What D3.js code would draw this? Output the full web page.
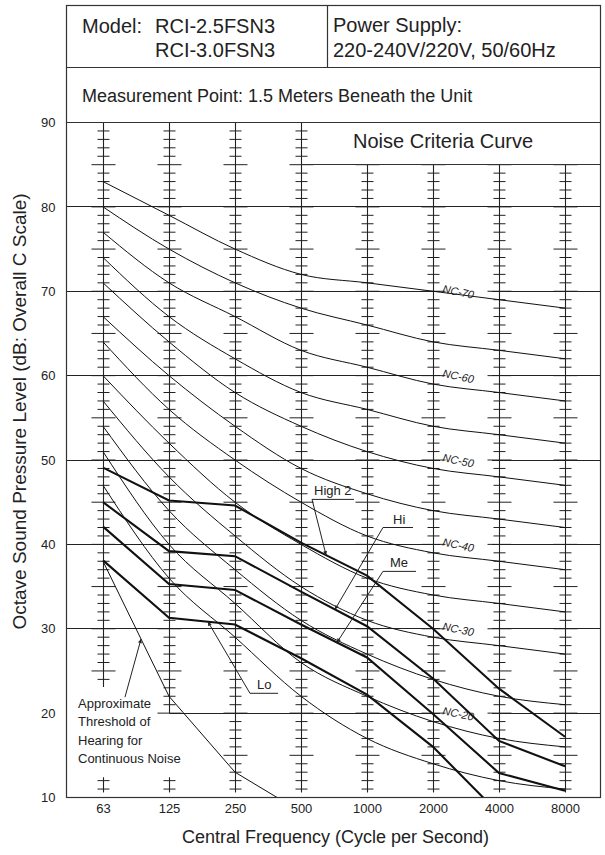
<!DOCTYPE html>
<html><head><meta charset="utf-8">
<script src="https://cdn.jsdelivr.net/npm/d3@7"></script>
<style>
body{margin:0;background:#fff}
svg{display:block}
text{font-family:"Liberation Sans",Arial,Helvetica,sans-serif;fill:#222}
</style>
</head><body><svg id="c" width="605" height="855"></svg>
<script>
// ---------------- DATA ----------------
const frequencies = ["63","125","250","500","1000","2000","4000","8000"];
const yTickLabels = [10,20,30,40,50,60,70,80,90];
const gridLevels = [20,30,40,50,60,70,80];

const nc70 = [83,79,75,72,71,70,69,68];
const nc65 = [80,75,71,68,66,64,63,62];
const nc60 = [77,71,67,63,61,59,58,57];
const nc55 = [74,67,62,58,56,54,53,52];
const nc50 = [71,64,58,54,51,49,48,47];
const nc45 = [67,60,54,49,46,44,43,42];
const nc40 = [64,56,50,45,41,39,38,37];
const nc35 = [60,52,45,40,36,34,33,32];
const nc30 = [57,48,41,35,31,29,28,27];
const nc25 = [54,44,37,31,27,24,22,21];
const nc20 = [51,40,33,26,22,19,17,16];
const nc15 = [47,36,29,22,17,14,12,11];
const ncNames = ["NC-70","NC-65","NC-60","NC-55","NC-50","NC-45","NC-40","NC-35","NC-30","NC-25","NC-20","NC-15"];
const ncLabelled = ["NC-70","NC-60","NC-50","NC-40","NC-30","NC-20"];

const high2 = [49.1,45.2,44.6,40.2,36.3,30.0,22.9,17.2];
const hi    = [45.0,39.2,38.6,34.4,30.3,24.1,16.7,13.7];
const me    = [42.1,35.3,34.6,30.5,26.6,19.9,12.9,10.8];
const lo    = [38.1,31.3,30.5,26.5,22.2,16.0,8.1,6.0];
const hearingThreshold = [38,22,13,8.3,null,null,null,null];

const modelLines = ["RCI-2.5FSN3","RCI-3.0FSN3"];
const powerLines = ["Power Supply:","220-240V/220V, 50/60Hz"];
const measurementText = "Measurement Point: 1.5 Meters Beneath the Unit";
const boxTitle = "Noise Criteria Curve";
const xTitle = "Central Frequency (Cycle per Second)";
const yTitle = "Octave Sound Pressure Level (dB: Overall C Scale)";
const thresholdText = ["Approximate","Threshold of","Hearing for","Continuous Noise"];

// ---------------- DRAWING ----------------
const svg = d3.select("#c");
const L = 66.5, R = 600.5, T = 5.5;
const x = d3.scalePoint().domain(frequencies).range([103, 565]);
const y = d3.scaleLinear().domain([10, 90]).range([797.5, 122.5]);
const crisp = v => Math.round(v - 0.5) + 0.5;
const xf = f => x(frequencies[0]) + f * x.step();
const series = {high2, hi, me, lo, hearingThreshold};
const ncSeries = [nc70,nc65,nc60,nc55,nc50,nc45,nc40,nc35,nc30,nc25,nc20,nc15];
const interp = (arr, f) => { const i = Math.floor(f), t = f - i; return arr[i] + (arr[i+1] - arr[i]) * t; };

const defs = svg.append("defs");
defs.append("clipPath").attr("id","plotclip").append("rect")
  .attr("x", L).attr("y", y(90)).attr("width", R - L).attr("height", y(10) - y(90));
defs.append("marker").attr("id","arr").attr("viewBox","0 0 10 10").attr("refX",10).attr("refY",5)
  .attr("markerWidth",9).attr("markerHeight",4).attr("markerUnits","userSpaceOnUse").attr("orient","auto")
  .append("path").attr("d","M0,0L10,5L0,10z").attr("fill","#222");

// gridlines
const grid = svg.append("g").attr("stroke","#222").attr("stroke-width",1);
gridLevels.forEach(v => {
  const x0 = v === 20 ? crisp(x("125")) : L;
  grid.append("line").attr("x1", x0).attr("x2", R).attr("y1", crisp(y(v))).attr("y2", crisp(y(v)));
});

// white gaps behind NC labels
const ncLabelX = x("2000") + 9;
ncLabelled.forEach(n => {
  const lvl = +n.split("-")[1];
  svg.append("rect").attr("x", ncLabelX - 2).attr("y", y(lvl) - 5).attr("width", 52).attr("height", 10).attr("fill","#fff");
});

// columns with ticks
const colRanges = f => f === "63" ? [[23.1,90],[10.6,12.4]]
  : f === "125" ? [[20,90],[10.6,12.4]]
  : ["1000","2000","4000","8000"].includes(f) ? [[10.6,85]] : [[10.6,90]];
const cols = svg.append("g").attr("stroke","#222");
frequencies.forEach(f => {
  const cx = crisp(x(f));
  colRanges(f).forEach(([a,b]) => {
    cols.append("line").attr("x1",cx).attr("x2",cx).attr("y1",y(b)).attr("y2",y(a)).attr("stroke-width",1.1);
    d3.range(Math.ceil(a), Math.floor(b) + 1).forEach(v => {
      if (v >= 90 || v <= 10) return;
      const hw = v % 5 === 0 ? 12 : 6;
      cols.append("line").attr("x1",cx-hw).attr("x2",cx+hw).attr("y1",y(v)).attr("y2",y(v)).attr("stroke-width",1);
    });
  });
});

// curves
const plot = svg.append("g").attr("clip-path","url(#plotclip)");
const lineSmooth = d3.line().x((d,i)=>x(frequencies[i])).y(d=>y(d)).curve(d3.curveMonotoneX);
const lineStraight = d3.line().defined(d=>d!=null).x((d,i)=>x(frequencies[i])).y(d=>y(d));
ncSeries.forEach(s => plot.append("path").attr("d", lineSmooth(s)).attr("fill","none").attr("stroke","#111").attr("stroke-width",1));
plot.append("path").attr("d", lineStraight(hearingThreshold)).attr("fill","none").attr("stroke","#111").attr("stroke-width",1);
[high2, hi, me, lo].forEach(s => plot.append("path").attr("d", lineStraight(s)).attr("fill","none").attr("stroke","#111").attr("stroke-width",2.1));

// frame & header
const frame = svg.append("g").attr("stroke","#333").attr("fill","none").attr("stroke-width",1.2);
frame.append("rect").attr("x",L).attr("y",T).attr("width",R-L).attr("height",y(10)-T);
frame.append("line").attr("x1",L).attr("x2",R).attr("y1",67.5).attr("y2",67.5);
frame.append("line").attr("x1",L).attr("x2",R).attr("y1",y(90)).attr("y2",y(90));
frame.append("line").attr("x1",327.5).attr("x2",327.5).attr("y1",T).attr("y2",67.5);
frame.append("line").attr("x1",crisp(x("500"))).attr("x2",R).attr("y1",crisp(y(85))).attr("y2",crisp(y(85)));

svg.append("text").attr("x",82).attr("y",33).attr("font-size",20).text("Model:");
modelLines.forEach((t,i)=>svg.append("text").attr("x",155).attr("y",33+i*24).attr("font-size",20).text(t));
powerLines.forEach((t,i)=>svg.append("text").attr("x",333).attr("y",32+i*25).attr("font-size",20).text(t));
svg.append("text").attr("x",82).attr("y",102).attr("font-size",18).text(measurementText);
svg.append("text").attr("x",353).attr("y",148).attr("font-size",20).text(boxTitle);

// axes
svg.append("g").attr("transform",`translate(${L},0)`)
  .call(d3.axisLeft(y).tickValues(yTickLabels).tickSize(0).tickPadding(11).tickFormat(d3.format("d")))
  .call(g=>g.select(".domain").remove())
  .attr("font-family","Liberation Sans, Arial, sans-serif").attr("font-size",13).attr("color","#222");
svg.append("g").attr("transform",`translate(0,${y(10)})`)
  .call(d3.axisBottom(x).tickSize(0).tickPadding(6))
  .call(g=>g.select(".domain").remove())
  .attr("font-family","Liberation Sans, Arial, sans-serif").attr("font-size",13).attr("color","#222");

svg.append("text").attr("x",(L+R)/2 + 2).attr("y",843).attr("text-anchor","middle").attr("font-size",18).text(xTitle);
svg.append("text").attr("transform",`translate(26,${(y(10)+T)/2 + 10}) rotate(-90)`).attr("text-anchor","middle").attr("font-size",19).text(yTitle);

// NC labels
ncLabelled.forEach(n => {
  const lvl = +n.split("-")[1];
  svg.append("text").attr("transform",`translate(${ncLabelX},${y(lvl)+1}) rotate(12)`)
    .attr("font-size",11).attr("font-style","italic").attr("fill","#333").text(n);
});

// annotations (leader lines)
const annos = [
  {text:"High 2", s:"high2", ux0:3.167, ux1:3.803, uy:45.33, tx:3.197, tf:3.38},
  {text:"Hi",     s:"hi",    ux0:4.242, ux1:4.697, uy:42.0,  tx:4.394, tf:3.515},
  {text:"Me",     s:"me",    ux0:4.242, ux1:4.742, uy:36.8,  tx:4.348, tf:3.545},
  {text:"Lo",     s:"lo",    ux0:2.227, ux1:2.652, uy:22.35, tx:2.333, tf:1.59}
];
const ann = svg.append("g");
annos.forEach(a => {
  const uy = y(a.uy);
  ann.append("line").attr("x1",xf(a.ux0)).attr("x2",xf(a.ux1)).attr("y1",uy).attr("y2",uy).attr("stroke","#222").attr("stroke-width",1);
  ann.append("line").attr("x1",xf(a.ux0)).attr("y1",uy).attr("x2",xf(a.tf)).attr("y2",y(interp(series[a.s], a.tf)))
    .attr("stroke","#222").attr("stroke-width",1).attr("marker-end","url(#arr)");
  ann.append("text").attr("x",xf(a.tx)).attr("y",uy-4).attr("font-size",13).text(a.text);
});
thresholdText.forEach((t,i)=>ann.append("text").attr("x",78).attr("y",708+i*18.4).attr("font-size",13).text(t));
ann.append("line").attr("x1",xf(0.333)).attr("y1",y(21.9)).attr("x2",xf(0.576)).attr("y2",y(interp(hearingThreshold,0.576)))
  .attr("stroke","#222").attr("stroke-width",1).attr("marker-end","url(#arr)");
</script>
</body></html>
